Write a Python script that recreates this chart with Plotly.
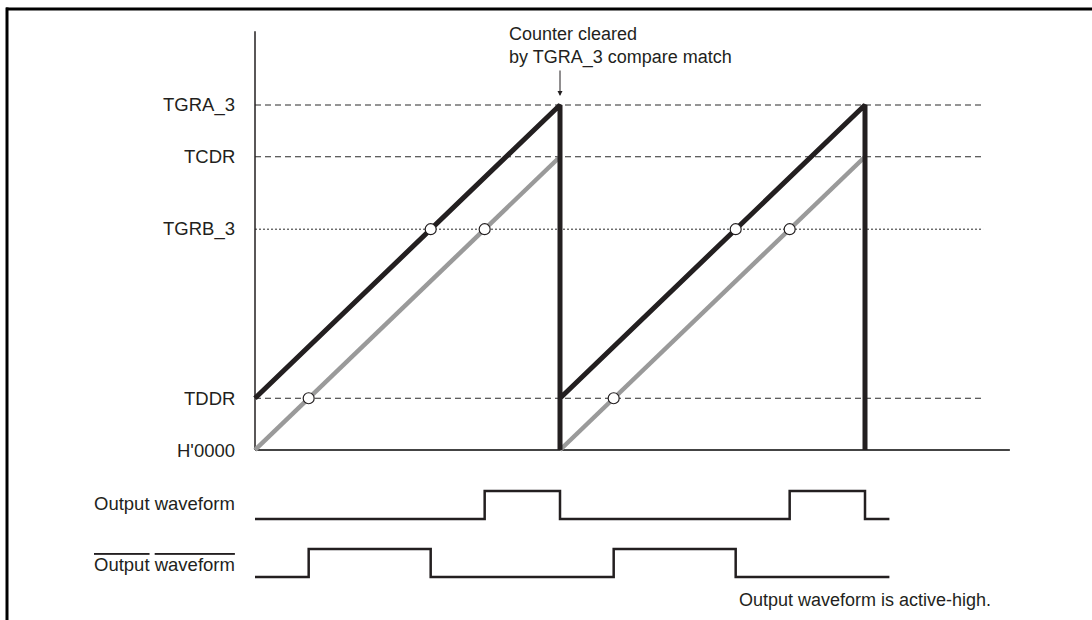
import plotly.graph_objects as go

# ---- data (counter units: TGRA_3 = 100, time units: one counter period = 1) ----
level_names = ["TGRA_3", "TCDR", "TGRB_3", "TDDR", "H'0000"]
level_values = [100, 85, 64, 15, 0]
level_dash = ["dash", "dash", "dot", "dash", "solid"]

# TCNT_3 (black) and TCNT_4 (gray) sawtooth vertices
black_t = [0, 1, 1, 1, 2, 2]
black_c = [15, 100, 0, 15, 100, 0]
gray_t = [0, 1, None, 1, 2]
gray_c = [0, 85, None, 0, 85]

# compare-match points (circles)
circle_t = [0.176, 0.576, 0.753, 1.176, 1.576, 1.753]
circle_c = [15, 64, 64, 15, 64, 64]

# output waveforms (hv step change points)
out_t = [0, 0.753, 1, 1.753, 2, 2.08]
out_v = [0, 1, 0, 1, 0, 0]
inv_t = [0, 0.176, 0.576, 1.176, 1.576, 2.08]
inv_v = [0, 1, 0, 1, 0, 0]

axis_top = 121.4
dash_end = 2.387
base_end = 2.475

W, H = 1092, 620
FONT = "Liberation Sans, Arial, sans-serif"
INK = "#231f20"

fig = go.Figure()

# reference level lines
for name, val, d in zip(level_names, level_values, level_dash):
    if name == "H'0000":
        fig.add_trace(go.Scatter(x=[0, base_end], y=[val, val], mode="lines",
                                 line=dict(color="#444444", width=1.8),
                                 hoverinfo="skip", showlegend=False))
    else:
        dash = "6px,4px" if d == "dash" else "2px,2px"
        fig.add_trace(go.Scatter(x=[0, dash_end], y=[val, val], mode="lines",
                                 line=dict(color="#2a2a2a", width=1, dash=dash),
                                 hoverinfo="skip", showlegend=False))

# vertical axis
fig.add_trace(go.Scatter(x=[0, 0], y=[0, axis_top], mode="lines",
                         line=dict(color=INK, width=1.5),
                         hoverinfo="skip", showlegend=False))

# gray counter
fig.add_trace(go.Scatter(x=gray_t, y=gray_c, mode="lines",
                         line=dict(color="#9a9a9a", width=4.5),
                         connectgaps=False, hoverinfo="skip", showlegend=False))
# black counter
fig.add_trace(go.Scatter(x=black_t, y=black_c, mode="lines",
                         line=dict(color=INK, width=5),
                         hoverinfo="skip", showlegend=False))
# circles
fig.add_trace(go.Scatter(x=circle_t, y=circle_c, mode="markers",
                         marker=dict(size=11, color="white",
                                     line=dict(color=INK, width=1.2)),
                         hoverinfo="skip", showlegend=False))

# output waveforms
fig.add_trace(go.Scatter(x=out_t, y=out_v, mode="lines", yaxis="y2",
                         line=dict(color=INK, width=2.5, shape="hv"),
                         hoverinfo="skip", showlegend=False))
fig.add_trace(go.Scatter(x=inv_t, y=inv_v, mode="lines", yaxis="y3",
                         line=dict(color=INK, width=2.5, shape="hv"),
                         hoverinfo="skip", showlegend=False))

# pixel -> data conversions for axis ranges
x_per_px = 1 / 305.0
x0_px = 255
xr = [(0 - x0_px) * x_per_px, (W - x0_px) * x_per_px]
c_per_px = 1 / 3.45
yr = [(450 - H) * c_per_px, 450 * c_per_px]
v_per_px = 1 / 28.0
y2r = [(519 - H) * v_per_px, 519 * v_per_px]
y3r = [(577 - H) * v_per_px, 577 * v_per_px]

annotations = []
label_x = -18 * x_per_px
for name, val in zip(level_names, level_values):
    annotations.append(dict(x=label_x, y=val, xref="x", yref="y", text=name,
                            showarrow=False, xanchor="right", yanchor="middle",
                            font=dict(family=FONT, size=18.5, color=INK)))
annotations.append(dict(x=label_x, y=0.55, xref="x", yref="y2",
                        text="Output waveform", showarrow=False,
                        xanchor="right", yanchor="middle",
                        font=dict(family=FONT, size=18.5, color=INK)))
annotations.append(dict(x=label_x, y=0.45, xref="x", yref="y3",
                        text="<span style='text-decoration:overline'>Output</span> "
                             "<span style='text-decoration:overline'>waveform</span>",
                        showarrow=False, xanchor="right", yanchor="middle",
                        font=dict(family=FONT, size=18.5, color=INK)))
annotations.append(dict(x=0.826, y=117.1, xref="x", yref="y",
                        text="Counter cleared<br>by TGRA_3 compare match",
                        showarrow=False, xanchor="left", yanchor="middle",
                        align="left",
                        font=dict(family=FONT, size=18, color=INK)))
annotations.append(dict(x=1, y=(450 - 96) * c_per_px, xref="x", yref="y",
                        ax=1, ay=(450 - 69) * c_per_px, axref="x", ayref="y",
                        text="", showarrow=True, arrowhead=2, arrowsize=1,
                        arrowwidth=1, arrowcolor=INK))
annotations.append(dict(x=(737 - x0_px) * x_per_px, y=-0.82, xref="x", yref="y3",
                        text="Output waveform is active-high.",
                        showarrow=False, xanchor="left", yanchor="middle",
                        font=dict(family=FONT, size=18, color=INK)))

shapes = [
    dict(type="line", xref="paper", yref="paper", x0=6 / W, x1=1,
         y0=1 - 9 / H, y1=1 - 9 / H, line=dict(color="black", width=3)),
    dict(type="line", xref="paper", yref="paper", x0=7 / W, x1=7 / W,
         y0=0, y1=1 - 7.5 / H, line=dict(color="black", width=3)),
]

hidden = dict(visible=False, showgrid=False, zeroline=False, fixedrange=True)
fig.update_layout(
    width=W, height=H,
    margin=dict(l=0, r=0, t=0, b=0),
    paper_bgcolor="white", plot_bgcolor="white",
    xaxis=dict(range=xr, domain=[0, 1], **hidden),
    yaxis=dict(range=yr, domain=[0, 1], **hidden),
    yaxis2=dict(range=y2r, overlaying="y", anchor="x", **hidden),
    yaxis3=dict(range=y3r, overlaying="y", anchor="x", **hidden),
    annotations=annotations,
    shapes=shapes,
    showlegend=False,
)

fig.write_html("out.html", config={"displayModeBar": False},
               post_script="document.body.style.margin='0';document.body.style.overflow='hidden';")
